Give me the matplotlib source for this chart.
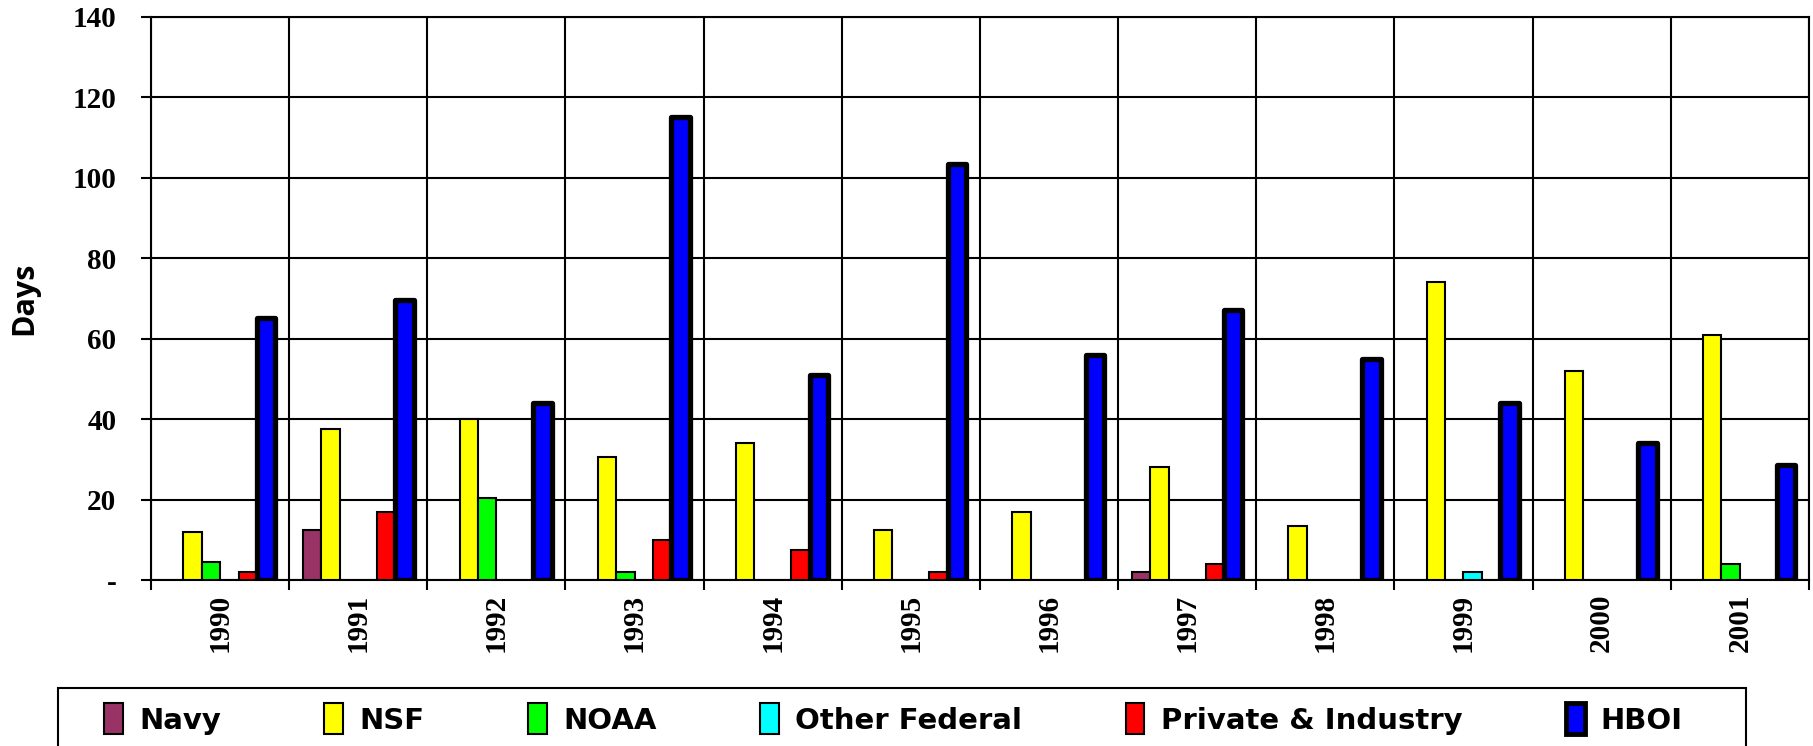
import numpy as np
import matplotlib
matplotlib.use("Agg")
import matplotlib.pyplot as plt
from matplotlib.patches import Patch, Rectangle

years = ["1990", "1991", "1992", "1993", "1994", "1995",
         "1996", "1997", "1998", "1999", "2000", "2001"]

navy    = [0, 12.5, 0, 0, 0, 0, 0, 2, 0, 0, 0, 0]
nsf     = [12, 37.5, 40, 30.5, 34, 12.5, 17, 28, 13.5, 74, 52, 61]
noaa    = [4.5, 0, 20.5, 2, 0, 0, 0, 0, 0, 0, 0, 4]
other   = [0, 0, 0, 0, 0, 0, 0, 0, 0, 2, 0, 0]
private = [2, 17, 0, 10, 7.5, 2, 0, 4, 0, 0, 0, 0]
hboi    = [65, 69.5, 44, 115, 51, 103.5, 56, 67, 55, 44, 34, 28.5]

series = [("Navy", navy, "#993366"),
          ("NSF", nsf, "#ffff00"),
          ("NOAA", noaa, "#00ff00"),
          ("Other Federal", other, "#00ffff"),
          ("Private & Industry", private, "#ff0000"),
          ("HBOI", hboi, "#0000ff")]

fig = plt.figure(figsize=(18.13, 7.46), dpi=100)
ax = fig.add_axes([0.0833, 0.2225, 0.9144, 0.7551])

x = np.arange(len(years))
w = 0.8 / len(series)
for i, (name, vals, col) in enumerate(series):
    pos = x - 0.4 + w * (i + 0.5)
    v = np.array(vals, dtype=float)
    keep = v > 0
    if name == "HBOI":
        ax.bar(pos[keep], v[keep], width=w, color=col, edgecolor="black",
               linewidth=3.8, joinstyle="round", zorder=3)
    else:
        ax.bar(pos[keep], v[keep], width=w, color=col, edgecolor="black",
               linewidth=1.5, zorder=3)

ax.set_xlim(-0.5, len(years) - 0.5)
ax.set_ylim(0, 140)
ax.set_yticks(np.arange(0, 141, 20))
ax.set_yticklabels(["-"] + [str(t) for t in range(20, 141, 20)])
ax.set_xticks(x)
ax.set_xticklabels(years, rotation=90)
ax.set_xticks(np.arange(-0.5, len(years)), minor=True)

ax.grid(axis="y", color="black", linewidth=1.5, zorder=0)
ax.grid(axis="x", which="minor", color="black", linewidth=1.5, zorder=0)
ax.set_axisbelow(True)
for s in ax.spines.values():
    s.set_linewidth(1.5)

serif = ["Liberation Serif", "DejaVu Serif"]
ax.tick_params(axis="y", length=7, width=1.5, pad=18)
ax.tick_params(axis="x", which="major", length=0, pad=10)
ax.tick_params(axis="x", which="minor", length=7, width=1.5)
for lab in ax.get_yticklabels() + ax.get_xticklabels():
    lab.set_fontfamily(serif)
    lab.set_fontweight("bold")
    lab.set_fontsize(21)

ax.set_ylabel("Days", fontsize=22, fontweight="bold",
              family=["Open Sans", "DejaVu Sans"], labelpad=24)

# legend frame (Excel style box running off the bottom edge)
fig.patches.append(Rectangle((58 / 1813, -0.02), 1688 / 1813, 1 - 688 / 746 + 0.02,
                             transform=fig.transFigure, facecolor="white",
                             edgecolor="black", linewidth=1.5, zorder=1))

handles = []
for name, vals, col in series:
    if name == "HBOI":
        handles.append(Patch(facecolor=col, edgecolor="black", linewidth=3.5, label=name))
    else:
        handles.append(Patch(facecolor=col, edgecolor="black", linewidth=1.5, label=name))

leg = fig.legend(handles=handles, loc="center left", ncol=6,
                 bbox_to_anchor=(104 / 1813, 1 - 719 / 746),
                 prop={"family": "DejaVu Sans", "weight": "bold", "size": 21},
                 frameon=False, borderpad=0, borderaxespad=0,
                 handlelength=0.65, handleheight=1.25, handletextpad=0.55,
                 columnspacing=3.55)
leg.set_zorder(2)

fig.savefig("out.png", dpi=100)
